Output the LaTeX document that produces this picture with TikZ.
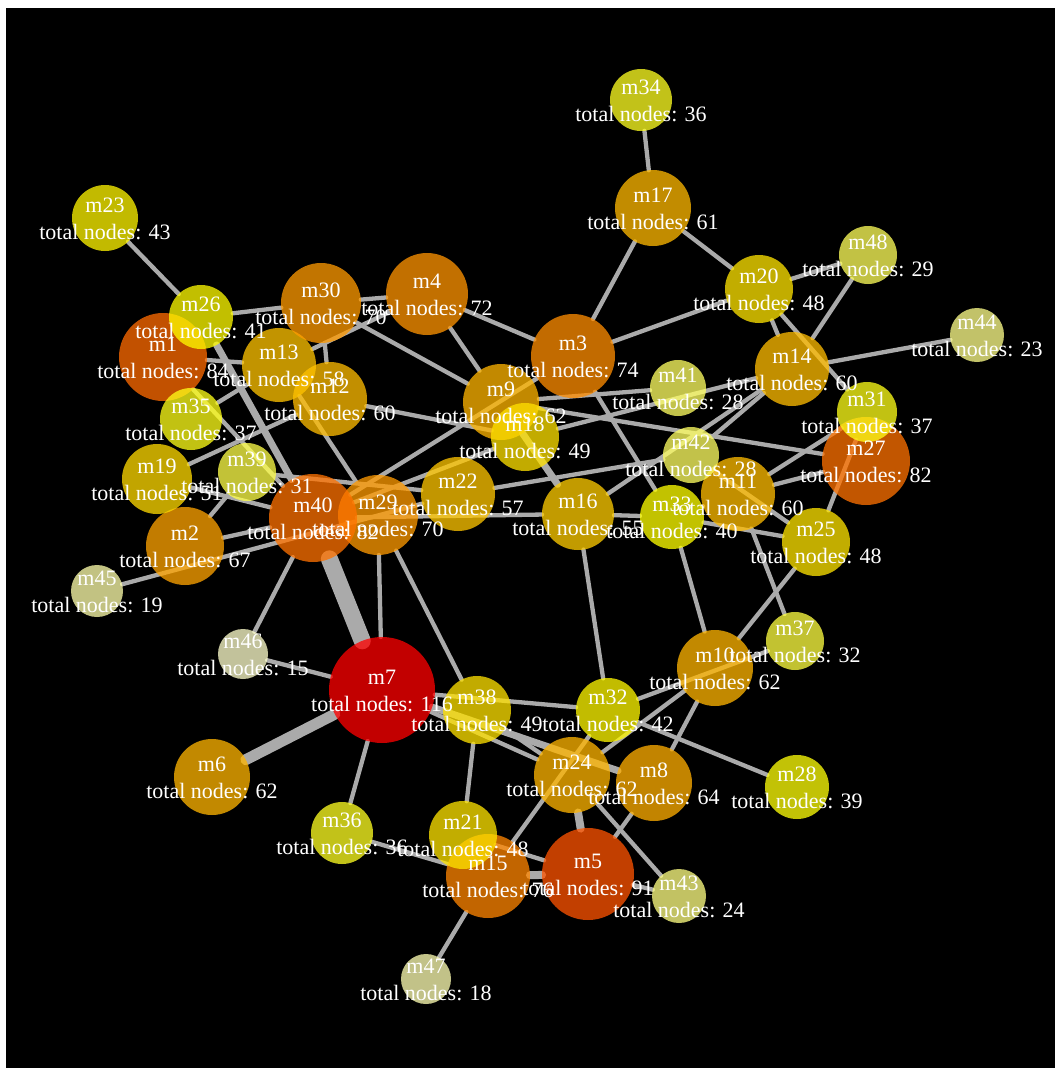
\documentclass[tikz,border=0pt]{standalone}
\usepackage{fontspec}
\setmainfont{Liberation Serif}
\usetikzlibrary{calc}
\pgfdeclarelayer{back}
\pgfdeclarelayer{bg}
\pgfdeclarelayer{fg}
\pgfsetlayers{back,bg,main,fg}
\definecolor{edgegray}{RGB}{170,170,170}
\tikzset{
  mcirc/.style={circle, inner sep=0pt, outer sep=0pt, draw=none, fill opacity=0.76},
  mtxt/.style={text=white, inner sep=0pt, anchor=base, font=\fontsize{22}{26}\selectfont},
  edge/.style={draw=edgegray, line width=4.3pt, line cap=round},
}
\newcommand\mnode[7]{%
  \node[mcirc, minimum size={2*#4pt}, fill={rgb,255:red,255;green,#5;blue,#6}] (#1) at (#2,#3) {};
  \begin{pgfonlayer}{fg}
    \node[mtxt] (#1a) at (#2,{#3-6}) {#1};
    \node[mtxt] (#1b) at (#2,{#3+21}) {total nodes: #7};
  \end{pgfonlayer}}
\begin{document}
\begin{tikzpicture}[x=1pt,y=-1pt]
\useasboundingbox (0,0) rectangle (1055,1068);
\begin{pgfonlayer}{back}
  \fill[white] (0,0) rectangle (1055,1068);
  \fill[black] (6,8) rectangle (1055,1068);
\end{pgfonlayer}
\mnode{m1}{163}{357}{44}{107}{0}{84}
\mnode{m2}{185}{546}{39}{164}{0}{67}
\mnode{m3}{573}{356}{42}{141}{0}{74}
\mnode{m4}{427}{294}{41}{148}{0}{72}
\mnode{m5}{588}{874}{46}{84}{0}{91}
\mnode{m6}{212}{777}{38}{181}{0}{62}
\mnode{m7}{382}{690}{53}{0}{0}{116}
\mnode{m8}{654}{783}{38}{174}{0}{64}
\mnode{m9}{501}{402}{38}{181}{0}{62}
\mnode{m10}{715}{668}{38}{181}{0}{62}
\mnode{m11}{738}{494}{37}{188}{0}{60}
\mnode{m12}{330}{399}{37}{188}{0}{60}
\mnode{m13}{279}{365}{37}{195}{0}{58}
\mnode{m14}{792}{369}{37}{188}{0}{60}
\mnode{m15}{488}{876}{42}{134}{0}{76}
\mnode{m16}{578}{514}{36}{205}{0}{55}
\mnode{m17}{653}{208}{38}{185}{0}{61}
\mnode{m18}{525}{437}{34}{225}{0}{49}
\mnode{m19}{157}{479}{35}{218}{0}{51}
\mnode{m20}{759}{289}{34}{228}{0}{48}
\mnode{m21}{463}{835}{34}{228}{0}{48}
\mnode{m22}{458}{494}{37}{198}{0}{57}
\mnode{m23}{105}{218}{33}{245}{0}{43}
\mnode{m24}{572}{775}{38}{181}{0}{62}
\mnode{m25}{816}{542}{34}{228}{0}{48}
\mnode{m26}{201}{317}{32}{252}{0}{41}
\mnode{m27}{866}{461}{44}{114}{0}{82}
\mnode{m28}{797}{787}{32}{255}{8}{39}
\mnode{m29}{378}{515}{40}{154}{0}{70}
\mnode{m30}{321}{303}{40}{154}{0}{70}
\mnode{m31}{867}{412}{30}{255}{24}{37}
\mnode{m32}{608}{710}{32}{248}{0}{42}
\mnode{m33}{672}{517}{32}{255}{0}{40}
\mnode{m34}{641}{100}{31}{255}{33}{36}
\mnode{m35}{191}{419}{31}{255}{24}{37}
\mnode{m36}{342}{833}{31}{255}{33}{36}
\mnode{m37}{795}{641}{29}{255}{65}{32}
\mnode{m38}{477}{710}{34}{225}{0}{49}
\mnode{m39}{247}{472}{29}{255}{73}{31}
\mnode{m40}{313}{518}{44}{114}{0}{82}
\mnode{m41}{678}{388}{28}{255}{98}{28}
\mnode{m42}{691}{455}{28}{255}{98}{28}
\mnode{m43}{679}{896}{27}{255}{131}{24}
\mnode{m44}{977}{335}{27}{255}{139}{23}
\mnode{m45}{97}{591}{26}{255}{171}{19}
\mnode{m46}{243}{654}{25}{255}{204}{15}
\mnode{m47}{426}{979}{25}{255}{180}{18}
\mnode{m48}{868}{255}{29}{255}{90}{29}
\begin{pgfonlayer}{bg}
\draw[edge] (m23) -- (m26);
\draw[edge] (m26) -- (m30);
\draw[edge, line width=7pt] (m26) -- (m40);
\draw[edge] (m1) -- (m13);
\draw[edge] (m1) -- (m40);
\draw[edge] (m30) -- (m4);
\draw[edge] (m30) -- (m12);
\draw[edge] (m30) -- (m9);
\draw[edge] (m13) -- (m4);
\draw[edge] (m4) -- (m9);
\draw[edge] (m4) -- (m3);
\draw[edge] (m12) -- (m18);
\draw[edge] (m13) -- (m29);
\draw[edge] (m35) -- (m13);
\draw[edge] (m19) -- (m12);
\draw[edge] (m19) -- (m40);
\draw[edge] (m2) -- (m39);
\draw[edge] (m2) -- (m40);
\draw[edge] (m45) -- (m22);
\draw[edge] (m39) -- (m22);
\draw[edge] (m40) -- (m3);
\draw[edge] (m40) -- (m18);
\draw[edge, line width=7pt] (m9) -- (m16);
\draw[edge] (m9) -- (m41);
\draw[edge] (m9) -- (m27);
\draw[edge] (m3) -- (m33);
\draw[edge] (m3) -- (m17);
\draw[edge] (m3) -- (m20);
\draw[edge] (m17) -- (m34);
\draw[edge] (m17) -- (m20);
\draw[edge] (m20) -- (m48);
\draw[edge] (m20) -- (m14);
\draw[edge] (m20) -- (m31);
\draw[edge] (m48) -- (m14);
\draw[edge] (m44) -- (m14);
\draw[edge] (m42) -- (m14);
\draw[edge] (m16) -- (m14);
\draw[edge] (m18) -- (m14);
\draw[edge] (m22) -- (m42);
\draw[edge] (m42) -- (m25);
\draw[edge] (m11) -- (m27);
\draw[edge] (m11) -- (m31);
\draw[edge] (m31) -- (m25);
\draw[edge] (m33) -- (m25);
\draw[edge] (m16) -- (m33);
\draw[edge] (m33) -- (m11);
\draw[edge] (m40) -- (m16);
\draw[edge] (m11) -- (m37);
\draw[edge] (m33) -- (m10);
\draw[edge] (m10) -- (m25);
\draw[edge] (m32) -- (m37);
\draw[edge] (m10) -- (m24);
\draw[edge] (m10) -- (m8);
\draw[edge] (m16) -- (m32);
\draw[edge] (m32) -- (m28);
\draw[edge] (m32) -- (m15);
\draw[edge, line width=17pt] (m40) -- (m7);
\draw[edge] (m29) -- (m7);
\draw[edge] (m29) -- (m38);
\draw[edge] (m40) -- (m46);
\draw[edge] (m46) -- (m7);
\draw[edge, line width=11pt] (m7) -- (m6);
\draw[edge] (m7) -- (m36);
\draw[edge] (m7) -- (m32);
\draw[edge] (m7) -- (m24);
\draw[edge, line width=7pt] (m7) -- (m8);
\draw[edge] (m38) -- (m24);
\draw[edge] (m38) -- (m21);
\draw[edge, line width=8pt] (m24) -- (m5);
\draw[edge] (m24) -- (m43);
\draw[edge] (m8) -- (m5);
\draw[edge] (m5) -- (m43);
\draw[edge, line width=8pt] (m15) -- (m5);
\draw[edge] (m21) -- (m5);
\draw[edge] (m36) -- (m15);
\draw[edge] (m15) -- (m47);
\end{pgfonlayer}
\end{tikzpicture}
\end{document}
